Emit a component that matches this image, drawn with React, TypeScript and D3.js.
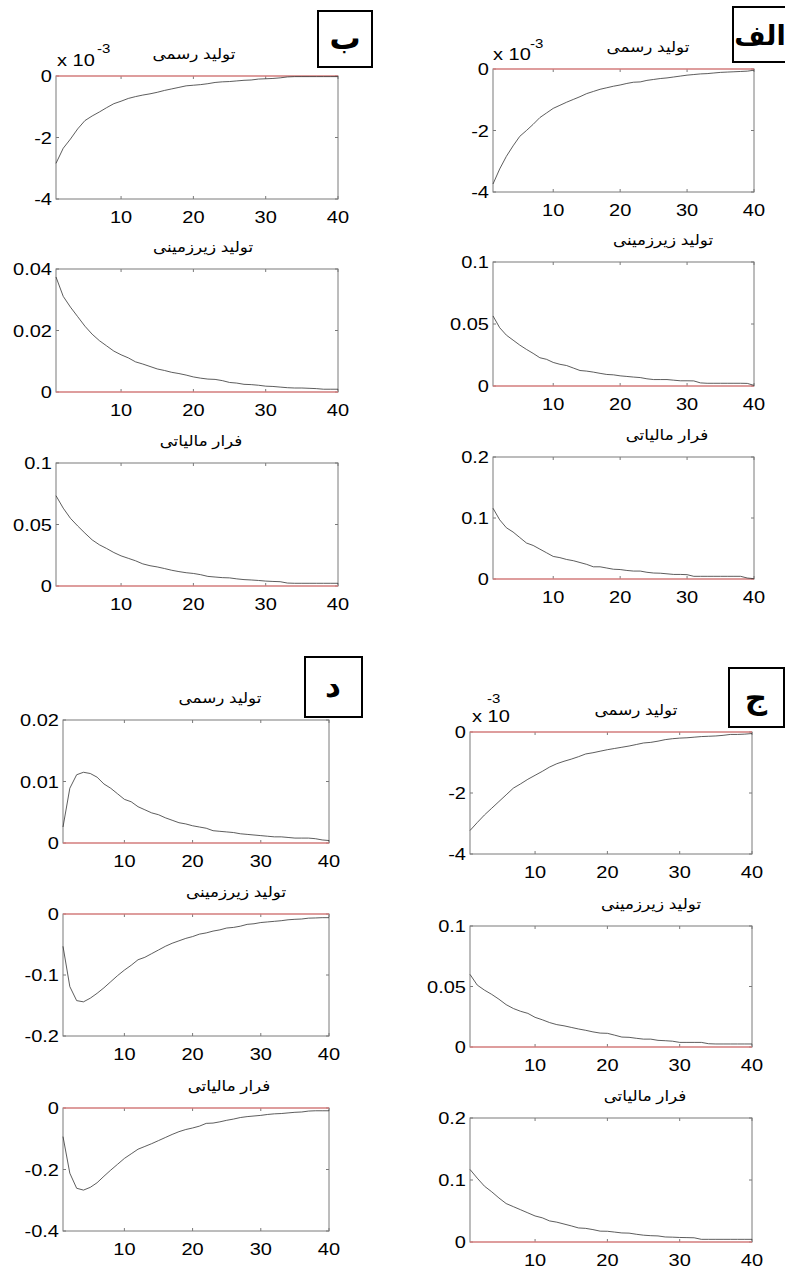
import React from "react";
import * as d3 from "d3";

// periods 1..40 on the x axis
const periods = d3.range(1, 41);
const xTicks = [10, 20, 30, 40];

const panelLabels = ["الف", "ب", "ج", "د"];
const seriesTitles = ["تولید رسمی", "تولید زیرزمینی", "فرار مالیاتی"];

// values of the first row of every panel are in units of 10^-3
const alefRasmi = [-3.74, -3.25, -2.84, -2.5, -2.19, -2.0, -1.8, -1.58, -1.43, -1.28, -1.18, -1.08, -0.99, -0.9, -0.8, -0.73, -0.66, -0.61, -0.56, -0.52, -0.47, -0.43, -0.42, -0.37, -0.34, -0.31, -0.29, -0.26, -0.23, -0.2, -0.18, -0.16, -0.15, -0.13, -0.11, -0.1, -0.09, -0.08, -0.07, -0.04];
const alefZir = [0.0565, 0.047, 0.041, 0.037, 0.033, 0.0295, 0.0263, 0.0228, 0.0215, 0.019, 0.0175, 0.0165, 0.0145, 0.0125, 0.012, 0.0112, 0.0102, 0.0093, 0.009, 0.0082, 0.0077, 0.0072, 0.0068, 0.0058, 0.0052, 0.0052, 0.0052, 0.0047, 0.0042, 0.0042, 0.0041, 0.0025, 0.0022, 0.0022, 0.0022, 0.0022, 0.0022, 0.0022, 0.0021, 0.0005];
const alefFarar = [0.116, 0.097, 0.084, 0.077, 0.068, 0.059, 0.055, 0.049, 0.043, 0.037, 0.035, 0.032, 0.03, 0.027, 0.024, 0.02, 0.02, 0.018, 0.016, 0.0155, 0.014, 0.013, 0.013, 0.011, 0.0098, 0.0095, 0.0085, 0.0075, 0.0075, 0.0071, 0.0044, 0.0044, 0.0044, 0.0044, 0.0044, 0.0044, 0.0044, 0.0044, 0.0016, 0.0005];

const beRasmi = [-2.84, -2.35, -2.05, -1.72, -1.45, -1.3, -1.17, -1.03, -0.9, -0.82, -0.73, -0.67, -0.62, -0.58, -0.53, -0.47, -0.42, -0.37, -0.32, -0.3, -0.28, -0.25, -0.21, -0.19, -0.18, -0.16, -0.14, -0.13, -0.1, -0.09, -0.08, -0.06, -0.03, -0.02, -0.02, -0.02, -0.02, -0.02, -0.02, -0.02];
const beZir = [0.0374, 0.0311, 0.0276, 0.0245, 0.0214, 0.0188, 0.0167, 0.015, 0.0133, 0.0121, 0.0111, 0.0098, 0.0091, 0.0083, 0.0075, 0.007, 0.0064, 0.006, 0.0055, 0.0049, 0.0045, 0.0042, 0.0041, 0.0037, 0.0031, 0.0029, 0.0025, 0.0024, 0.0022, 0.0019, 0.0018, 0.0016, 0.0014, 0.0013, 0.0013, 0.0012, 0.0011, 0.0009, 0.0009, 0.0009];
const beFarar = [0.0734, 0.0633, 0.055, 0.0488, 0.043, 0.0375, 0.0335, 0.0305, 0.0272, 0.0245, 0.0225, 0.0205, 0.018, 0.0165, 0.0155, 0.0142, 0.0128, 0.0117, 0.0108, 0.0102, 0.0092, 0.0078, 0.0073, 0.0068, 0.0066, 0.0058, 0.0052, 0.0049, 0.0045, 0.004, 0.0037, 0.0035, 0.0024, 0.0022, 0.0022, 0.0022, 0.0022, 0.0022, 0.0022, 0.0022];

const jimRasmi = [-3.23, -2.97, -2.72, -2.5, -2.28, -2.06, -1.84, -1.7, -1.55, -1.42, -1.29, -1.15, -1.04, -0.96, -0.89, -0.81, -0.72, -0.68, -0.63, -0.58, -0.54, -0.5, -0.46, -0.41, -0.36, -0.34, -0.3, -0.25, -0.22, -0.2, -0.19, -0.17, -0.15, -0.14, -0.13, -0.11, -0.08, -0.08, -0.07, -0.05];
const jimZir = [0.06, 0.0512, 0.047, 0.0435, 0.0395, 0.035, 0.0318, 0.0295, 0.0278, 0.0245, 0.0225, 0.0202, 0.0185, 0.0175, 0.0162, 0.0149, 0.0138, 0.0125, 0.0115, 0.0113, 0.0098, 0.0082, 0.008, 0.0072, 0.0065, 0.0065, 0.0055, 0.0052, 0.0048, 0.0038, 0.0038, 0.0038, 0.0038, 0.0027, 0.0025, 0.0025, 0.0025, 0.0025, 0.0025, 0.0025];
const jimFarar = [0.117, 0.103, 0.09, 0.081, 0.071, 0.062, 0.057, 0.052, 0.047, 0.042, 0.039, 0.034, 0.032, 0.029, 0.026, 0.0227, 0.022, 0.02, 0.0175, 0.0173, 0.016, 0.0146, 0.0143, 0.0125, 0.011, 0.0102, 0.0098, 0.0081, 0.0078, 0.0073, 0.0071, 0.0068, 0.0043, 0.0043, 0.0043, 0.0043, 0.0043, 0.0043, 0.0043, 0.0043];

const dalRasmi = [0.0026, 0.0089, 0.0111, 0.0115, 0.0113, 0.0107, 0.0096, 0.0089, 0.008, 0.0071, 0.0067, 0.0059, 0.0054, 0.0049, 0.0046, 0.0041, 0.0037, 0.0033, 0.0031, 0.0028, 0.0026, 0.0024, 0.002, 0.0019, 0.0018, 0.0017, 0.0015, 0.0014, 0.0013, 0.0012, 0.0011, 0.001, 0.001, 0.0009, 0.0008, 0.0008, 0.0008, 0.0007, 0.0005, 0.0004];
const dalZir = [-0.053, -0.119, -0.142, -0.144, -0.138, -0.13, -0.121, -0.111, -0.101, -0.092, -0.084, -0.075, -0.071, -0.065, -0.059, -0.053, -0.048, -0.044, -0.04, -0.037, -0.033, -0.031, -0.028, -0.026, -0.023, -0.022, -0.02, -0.017, -0.016, -0.014, -0.013, -0.012, -0.011, -0.0095, -0.0087, -0.0082, -0.0068, -0.0065, -0.006, -0.006];
const dalFarar = [-0.093, -0.212, -0.261, -0.267, -0.258, -0.243, -0.222, -0.202, -0.183, -0.164, -0.149, -0.134, -0.125, -0.116, -0.106, -0.096, -0.086, -0.077, -0.07, -0.065, -0.059, -0.05, -0.049, -0.045, -0.04, -0.036, -0.031, -0.028, -0.026, -0.024, -0.021, -0.019, -0.018, -0.016, -0.014, -0.013, -0.01, -0.009, -0.009, -0.009];

// y tick labels for each sub-plot
const yTicksAlef = [["-4", "-2", "0"], ["0", "0.05", "0.1"], ["0", "0.1", "0.2"]];
const yTicksBe = [["-4", "-2", "0"], ["0", "0.02", "0.04"], ["0", "0.05", "0.1"]];
const yTicksJim = [["-4", "-2", "0"], ["0", "0.05", "0.1"], ["0", "0.1", "0.2"]];
const yTicksDal = [["0", "0.01", "0.02"], ["-0.2", "-0.1", "0"], ["-0.4", "-0.2", "0"]];

const groups = [
  {
    label: panelLabels[0], box: [733, 7, 60, 55], labelX: 760, labelSize: 27, left: 493, right: 754,
    rows: [[69, 192], [262, 386], [457, 579]], titleX: [648, 663, 667],
    series: [alefRasmi, alefZir, alefFarar], ticks: yTicksAlef, exp: [493, 60, 530, 48],
  },
  {
    label: panelLabels[1], box: [318, 11, 54, 56], labelX: 345, labelSize: 31, left: 56, right: 338,
    rows: [[76, 199], [269, 392], [463, 586]], titleX: [194, 203, 201],
    series: [beRasmi, beZir, beFarar], ticks: yTicksBe, exp: [57, 66, 97, 53],
  },
  {
    label: panelLabels[2], box: [729, 668, 55, 59], labelX: 756, labelSize: 31, left: 470, right: 752,
    rows: [[732, 854], [926, 1047], [1118, 1242]], titleX: [636, 651, 645],
    series: [jimRasmi, jimZir, jimFarar], ticks: yTicksJim, exp: [472, 722, 487, 703],
  },
  {
    label: panelLabels[3], box: [305, 657, 57, 60], labelX: 333, labelSize: 31, left: 63, right: 329,
    rows: [[720, 843], [914, 1036], [1108, 1231]], titleX: [220, 236, 229],
    series: [dalRasmi, dalZir, dalFarar], ticks: yTicksDal, exp: null,
  },
];

const frameColor = "#7a7a7a";
const zeroColor = "#ff7f7f";
const numFont = "Arial, 'Liberation Sans', sans-serif";
const faFont = "Arial, 'DejaVu Sans', sans-serif";
// the source figure is stretched horizontally
const stretch = 1.25;

const SText = ({ x, y, sx = stretch, children, ...rest }) => (
  <text transform={`translate(${x},${y}) scale(${sx},1)`} {...rest}>
    {children}
  </text>
);

const SubPlot = ({ left, right, top, bottom, values, ticks, title, titleX }) => {
  const tickVals = ticks.map(Number);
  const x = d3.scaleLinear().domain([1, 40]).range([left, right]);
  const y = d3.scaleLinear().domain(d3.extent(tickVals)).range([bottom, top]);
  const line = d3.line().x((d, i) => x(periods[i])).y(d => y(d));
  const tl = 3;
  return (
    <g>
      <SText x={titleX} y={top - 17} sx={1.12} textAnchor="middle" fontFamily={faFont} fontSize={15} direction="rtl">
        {title}
      </SText>
      <rect x={left} y={top} width={right - left} height={bottom - top} fill="white" stroke={frameColor} strokeWidth={1} />
      {xTicks.map(t => (
        <g key={"x" + t}>
          <line x1={x(t)} x2={x(t)} y1={bottom} y2={bottom - tl} stroke={frameColor} />
          <line x1={x(t)} x2={x(t)} y1={top} y2={top + tl} stroke={frameColor} />
          <SText x={x(t)} y={bottom + 24} textAnchor="middle" fontFamily={numFont} fontSize={16}>{t}</SText>
        </g>
      ))}
      {ticks.map((t, i) => (
        <g key={"y" + i}>
          <line x1={left} x2={left + tl} y1={y(tickVals[i])} y2={y(tickVals[i])} stroke={frameColor} />
          <line x1={right} x2={right - tl} y1={y(tickVals[i])} y2={y(tickVals[i])} stroke={frameColor} />
          <SText x={left - 4} y={y(tickVals[i]) + 6} textAnchor="end" fontFamily={numFont} fontSize={16}>{t}</SText>
        </g>
      ))}
      <line x1={x(1)} x2={x(40)} y1={y(0)} y2={y(0)} stroke={zeroColor} strokeWidth={1.2} />
      <path d={line(values)} fill="none" stroke="#333" strokeWidth={0.8} />
    </g>
  );
};

export default function App() {
  return (
    <svg width={785} height={1270} style={{ position: "absolute", left: 0, top: 0, background: "white" }}>
      {groups.map(g => (
        <g key={g.label}>
          {g.rows.map((r, i) => (
            <SubPlot
              key={i}
              left={g.left}
              right={g.right}
              top={r[0]}
              bottom={r[1]}
              values={g.series[i]}
              ticks={g.ticks[i]}
              title={seriesTitles[i]}
              titleX={g.titleX[i]}
            />
          ))}
          <rect x={g.box[0]} y={g.box[1]} width={g.box[2]} height={g.box[3]} fill="white" stroke="black" strokeWidth={2} />
          <text
            x={g.labelX}
            y={g.box[1] + g.box[3] / 2 + 10}
            textAnchor="middle"
            fontFamily={faFont}
            fontWeight="bold"
            fontSize={g.labelSize}
            direction="rtl"
          >
            {g.label}
          </text>
          {g.exp && (
            <g fontFamily={numFont}>
              <SText x={g.exp[0]} y={g.exp[1]} fontSize={16}>x 10</SText>
              <SText x={g.exp[2]} y={g.exp[3]} fontSize={12}>-3</SText>
            </g>
          )}
        </g>
      ))}
    </svg>
  );
}
